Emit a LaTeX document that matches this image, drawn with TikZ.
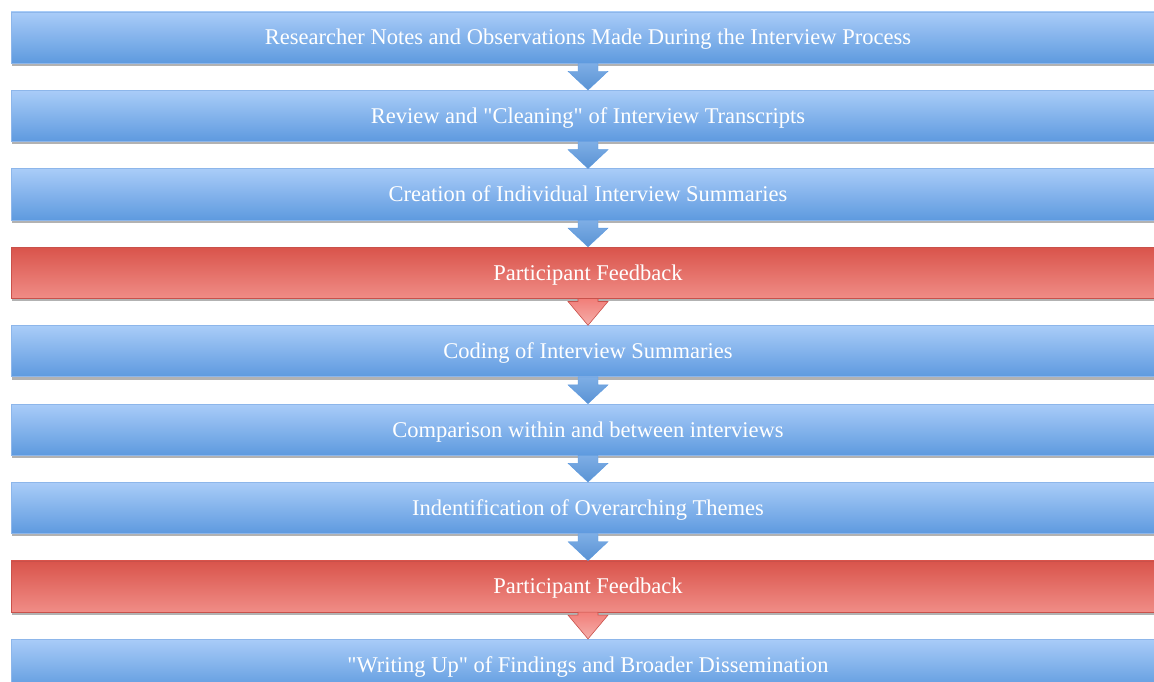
\documentclass[tikz,border=0pt]{standalone}
\usepackage{fontspec}
\setmainfont{Liberation Serif}[Ligatures=TeXOff]
\usetikzlibrary{positioning,shadows,calc}

\definecolor{bluetop}{HTML}{A9CCF8}
\definecolor{bluebot}{HTML}{5E9ADF}
\definecolor{blueline}{HTML}{8DB6EA}
\definecolor{redtop}{HTML}{D9544B}
\definecolor{redbot}{HTML}{F08C86}
\definecolor{redline}{HTML}{C9514B}

\tikzset{
  stage/.style={minimum width=1154pt, minimum height=51pt, inner sep=0pt,
    text=white, font=\fontsize{22.5}{26}\selectfont, text height=17pt, text depth=2pt,
    top color=bluetop, bottom color=bluebot, draw=blueline, line width=0.6pt,
    drop shadow={shadow xshift=1pt, shadow yshift=-3pt, opacity=0.3, fill=black}},
  feedback/.style={stage, top color=redtop, bottom color=redbot, draw=redline},
  bluearrow/.style={top color=bluebot!80!white, bottom color=bluebot!95!black, draw=bluebot, line width=0.4pt},
  redarrow/.style={top color=redbot!90!red, bottom color=redbot!70!white, draw=redline, line width=0.6pt},
}

% block arrow from the bottom of #1 to the top of #2
\newcommand{\flowarrow}[4]{%
  \path[#3] ($(#1.south)+(-10pt,0)$) -- ($(#1.south)+(-10pt,-#4)$)
    -- ($(#1.south)+(-20pt,-#4)$) -- (#2.north) -- ($(#1.south)+(20pt,-#4)$)
    -- ($(#1.south)+(10pt,-#4)$) -- ($(#1.south)+(10pt,0)$) -- cycle;}

\begin{document}
\begin{tikzpicture}[node distance=26.8pt]
\useasboundingbox (0,0) rectangle (1154pt,-682pt);
\node[stage] (notes) at (588pt,-37.5pt) {Researcher Notes and Observations Made During the Interview Process};
\node[stage, below=of notes] (clean) {Review and "Cleaning" of Interview Transcripts};
\node[stage, below=of clean] (summ) {Creation of Individual Interview Summaries};
\node[feedback, below=of summ] (fb1) {Participant Feedback};
\node[stage, below=of fb1] (coding) {Coding of Interview Summaries};
\node[stage, below=of coding] (compare) {Comparison within and between interviews};
\node[stage, below=of compare] (themes) {Indentification of Overarching Themes};
\node[feedback, below=of themes] (fb2) {Participant Feedback};
\node[stage, below=of fb2] (write) {"Writing Up" of Findings and Broader Dissemination};

\flowarrow{notes}{clean}{bluearrow}{8pt}
\flowarrow{clean}{summ}{bluearrow}{8pt}
\flowarrow{summ}{fb1}{bluearrow}{8pt}
\flowarrow{fb1}{coding}{redarrow}{3pt}
\flowarrow{coding}{compare}{bluearrow}{8pt}
\flowarrow{compare}{themes}{bluearrow}{8pt}
\flowarrow{themes}{fb2}{bluearrow}{8pt}
\flowarrow{fb2}{write}{redarrow}{3pt}
\end{tikzpicture}
\end{document}
